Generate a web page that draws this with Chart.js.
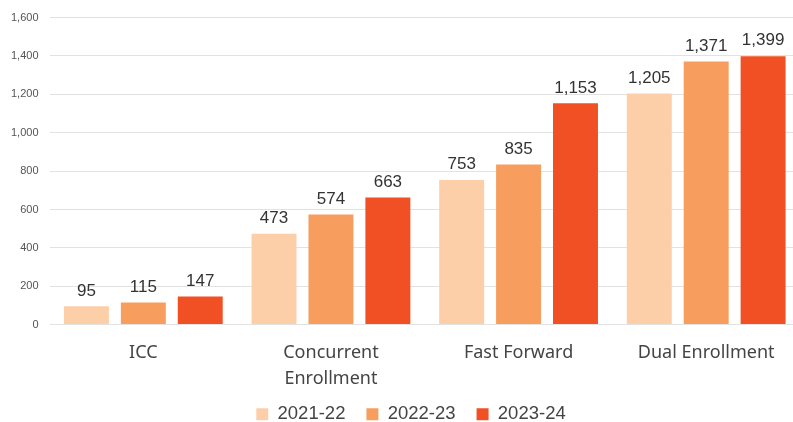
<!DOCTYPE html>
<html>
<head>
<meta charset="utf-8">
<script src="https://cdn.jsdelivr.net/npm/chart.js@4"></script>
<style>
  html, body { margin: 0; padding: 0; background: #fff; overflow: hidden; }
  #wrap { width: 800px; height: 422px; }
</style>
</head>
<body>
<div id="wrap"><canvas id="enroll"></canvas></div>
<script>
// categories and series
var categories = ['ICC', ['Concurrent', 'Enrollment'], 'Fast Forward', 'Dual Enrollment'];
var y2122 = [95, 473, 753, 1205];
var y2223 = [115, 574, 835, 1371];
var y2324 = [147, 663, 1153, 1399];

// value labels above bars
var valueLabels = {
  id: 'valueLabels',
  afterDatasetsDraw: function (chart) {
    var ctx = chart.ctx;
    ctx.save();
    ctx.font = '17px "Liberation Sans", Arial, sans-serif';
    ctx.fillStyle = '#333';
    ctx.textAlign = 'center';
    ctx.textBaseline = 'bottom';
    chart.data.datasets.forEach(function (ds, i) {
      chart.getDatasetMeta(i).data.forEach(function (bar, j) {
        ctx.fillText(ds.data[j].toLocaleString('en-US'), bar.x, bar.y - 7);
      });
    });
    ctx.restore();
  }
};

// legend: a little right of centre, and pulled up close to the axis labels
var legendShift = {
  id: 'legendShift',
  afterLayout: function (chart) {
    chart.legend.left += 11;
    chart.legend.right += 11;
    chart.legend.top -= 15;
  }
};

var ctx_enroll = document.getElementById('enroll');
var enroll = new Chart(ctx_enroll, {
  type: 'bar',
  data: {
    labels: categories,
    datasets: [
      { label: '2021-22', backgroundColor: '#FDCFA8', data: y2122 },
      { label: '2022-23', backgroundColor: '#F79E5E', data: y2223 },
      { label: '2023-24', backgroundColor: '#F05023', data: y2324 },
    ],
  },
  options: {
    responsive: true,
    maintainAspectRatio: false,
    animation: false,
    categoryPercentage: 0.91,
    barPercentage: 0.79,
    layout: { padding: { top: 16, left: 0, right: 0, bottom: 0 } },
    scales: {
      x: {
        grid: { display: false },
        border: { display: false },
        ticks: {
          color: '#444',
          padding: 8,
          font: { family: '"Noto Sans", sans-serif', size: 18, lineHeight: 1.4 },
          maxRotation: 0,
          autoSkip: false,
        }
      },
      y: {
        min: 0,
        max: 1600,
        border: { display: false },
        grid: { color: '#E2E2E2', drawTicks: false },
        ticks: {
          stepSize: 200,
          color: '#555',
          padding: 11,
          font: { family: '"Liberation Sans", Arial, sans-serif', size: 11 },
          callback: function (v) { return v.toLocaleString('en-US'); }
        }
      }
    },
    plugins: {
      legend: {
        position: 'bottom',
        maxHeight: 23,
        labels: {
          boxWidth: 12,
          boxHeight: 12,
          color: '#444',
          padding: 21,
          font: { family: '"Liberation Sans", Arial, sans-serif', size: 18.5 }
        }
      },
      tooltip: { enabled: false }
    }
  },
  plugins: [valueLabels, legendShift]
});
</script>
</body>
</html>
